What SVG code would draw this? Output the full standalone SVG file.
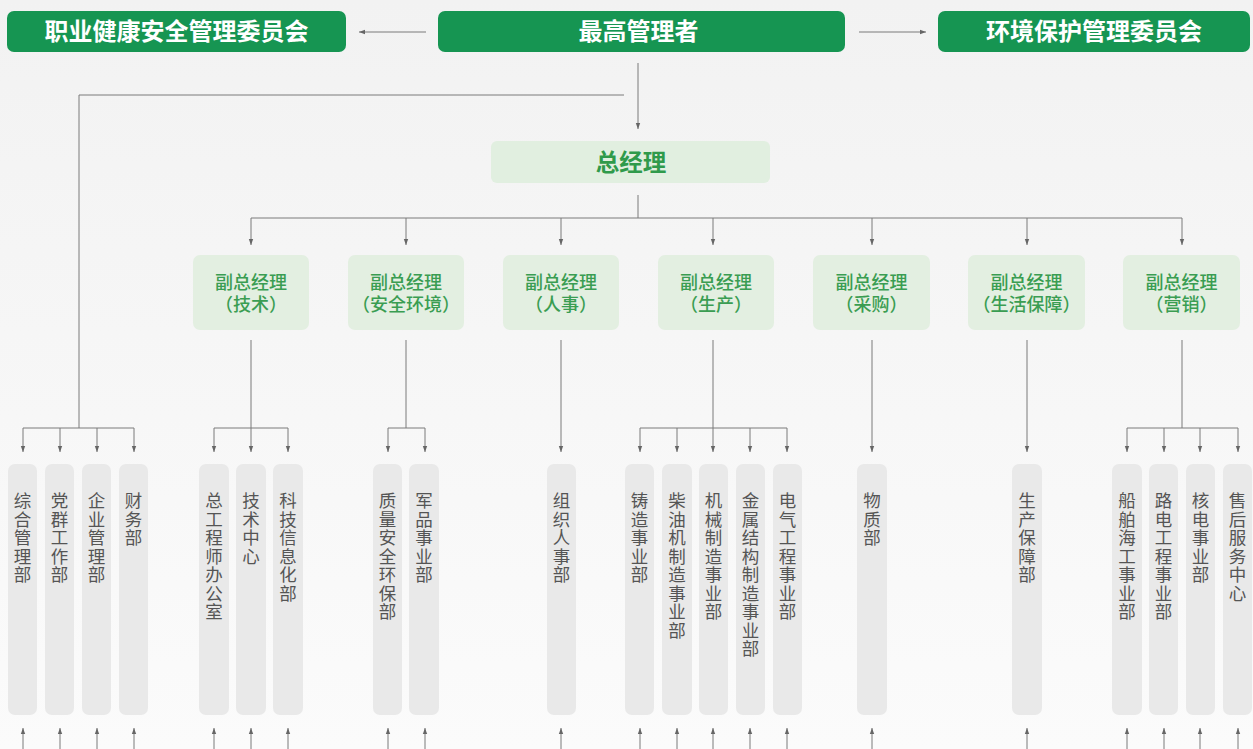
<svg xmlns="http://www.w3.org/2000/svg" width="1253" height="749" viewBox="0 0 1253 749">
<defs>
<linearGradient id="bg" x1="0" y1="0" x2="0" y2="1">
<stop offset="0" stop-color="#f2f2f2"/>
<stop offset="1" stop-color="#fbfbfb"/>
</linearGradient>
<marker id="ah" markerUnits="userSpaceOnUse" markerWidth="6" markerHeight="6" refX="6" refY="3" orient="auto">
<path d="M0,0.8 L6,3 L0,5.2 z" fill="#666"/>
</marker>
<style>
.top{fill:#169552}
.toptxt{fill:#ffffff;font-family:"Noto Sans CJK SC",sans-serif;font-weight:700;font-size:24px;text-anchor:middle}
.gm{fill:#e1efe0}
.gmtxt{fill:#2f9a4b;font-family:"Noto Sans CJK SC",sans-serif;font-weight:700;font-size:23.5px;text-anchor:middle}
.vp{fill:#e3efe1}
.vptxt{fill:#3a9d52;font-family:"Liberation Sans","Noto Sans CJK SC",sans-serif;font-weight:500;font-size:18px;text-anchor:middle}
.leaf{fill:#e9e9e9}
.leaftxt{fill:#555;font-family:"Noto Sans CJK SC",sans-serif;font-size:17.5px;writing-mode:vertical-rl;text-orientation:upright;letter-spacing:1px}
.c{fill:none;stroke:#7a7a7a;stroke-width:1}
.a{fill:none;stroke:#7a7a7a;stroke-width:1;marker-end:url(#ah)}
</style>
</defs>
<rect width="1253" height="749" fill="url(#bg)"/>

<g id="connectors">
<path class="a" d="M426,32 H359"/>
<path class="a" d="M859,32 H926"/>
<path class="a" d="M638,63 V129"/>
<path class="c" d="M624,95 H79 V428"/>
<path class="c" d="M638,195 V218"/>
<path class="c" d="M251,218 H1182"/>
<path class="a" d="M251,218 V245"/>
<path class="a" d="M406,218 V245"/>
<path class="a" d="M561,218 V245"/>
<path class="a" d="M713,218 V245"/>
<path class="a" d="M872,218 V245"/>
<path class="a" d="M1027,218 V245"/>
<path class="a" d="M1182,218 V245"/>
<path class="c" d="M23,428 H134"/>
<path class="a" d="M23,428 V452"/>
<path class="a" d="M60,428 V452"/>
<path class="a" d="M97,428 V452"/>
<path class="a" d="M134,428 V452"/>
<path class="c" d="M251,340 V428 M214,428 H288"/>
<path class="a" d="M214,428 V452"/>
<path class="a" d="M251,428 V452"/>
<path class="a" d="M288,428 V452"/>
<path class="c" d="M406,340 V428 M388,428 H425"/>
<path class="a" d="M388,428 V452"/>
<path class="a" d="M425,428 V452"/>
<path class="a" d="M561,340 V452"/>
<path class="c" d="M713,340 V428 M640,428 H787"/>
<path class="a" d="M640,428 V452"/>
<path class="a" d="M677,428 V452"/>
<path class="a" d="M713,428 V452"/>
<path class="a" d="M750,428 V452"/>
<path class="a" d="M787,428 V452"/>
<path class="a" d="M872,340 V452"/>
<path class="a" d="M1027,340 V452"/>
<path class="c" d="M1182,340 V428 M1127,428 H1238"/>
<path class="a" d="M1127,428 V452"/>
<path class="a" d="M1164,428 V452"/>
<path class="a" d="M1200,428 V452"/>
<path class="a" d="M1238,428 V452"/>
<path class="a" d="M23,749 V728"/>
<path class="a" d="M60,749 V728"/>
<path class="a" d="M97,749 V728"/>
<path class="a" d="M134,749 V728"/>
<path class="a" d="M214,749 V728"/>
<path class="a" d="M251,749 V728"/>
<path class="a" d="M288,749 V728"/>
<path class="a" d="M388,749 V728"/>
<path class="a" d="M425,749 V728"/>
<path class="a" d="M561,749 V728"/>
<path class="a" d="M640,749 V728"/>
<path class="a" d="M677,749 V728"/>
<path class="a" d="M713,749 V728"/>
<path class="a" d="M750,749 V728"/>
<path class="a" d="M787,749 V728"/>
<path class="a" d="M872,749 V728"/>
<path class="a" d="M1027,749 V728"/>
<path class="a" d="M1127,749 V728"/>
<path class="a" d="M1164,749 V728"/>
<path class="a" d="M1200,749 V728"/>
<path class="a" d="M1238,749 V728"/>
</g>

<g id="n-ohs"><rect class="top" x="7" y="11" width="339" height="41" rx="7"/><text class="toptxt" x="176.5" y="40">职业健康安全管理委员会</text></g>
<g id="n-top"><rect class="top" x="438" y="11" width="407" height="41" rx="7"/><text class="toptxt" x="638.5" y="40">最高管理者</text></g>
<g id="n-env"><rect class="top" x="938" y="11" width="312" height="41" rx="7"/><text class="toptxt" x="1094" y="40">环境保护管理委员会</text></g>

<g id="n-gm"><rect class="gm" x="491" y="141" width="279" height="42" rx="6"/><text class="gmtxt" x="631" y="171">总经理</text></g>

<g id="n-vp1"><rect class="vp" x="193" y="255" width="116" height="75" rx="7"/><text class="vptxt" x="251" y="288.5">副总经理</text><text class="vptxt" x="251" y="311">（技术）</text></g>
<g id="n-vp2"><rect class="vp" x="348" y="255" width="116" height="75" rx="7"/><text class="vptxt" x="406" y="288.5">副总经理</text><text class="vptxt" x="406" y="311">（安全环境）</text></g>
<g id="n-vp3"><rect class="vp" x="503" y="255" width="116" height="75" rx="7"/><text class="vptxt" x="561" y="288.5">副总经理</text><text class="vptxt" x="561" y="311">（人事）</text></g>
<g id="n-vp4"><rect class="vp" x="658" y="255" width="116" height="75" rx="7"/><text class="vptxt" x="716" y="288.5">副总经理</text><text class="vptxt" x="716" y="311">（生产）</text></g>
<g id="n-vp5"><rect class="vp" x="813" y="255" width="117" height="75" rx="7"/><text class="vptxt" x="871.5" y="288.5">副总经理</text><text class="vptxt" x="871.5" y="311">（采购）</text></g>
<g id="n-vp6"><rect class="vp" x="968" y="255" width="117" height="75" rx="7"/><text class="vptxt" x="1026.5" y="288.5">副总经理</text><text class="vptxt" x="1026.5" y="311">（生活保障）</text></g>
<g id="n-vp7"><rect class="vp" x="1123" y="255" width="117" height="75" rx="7"/><text class="vptxt" x="1181.5" y="288.5">副总经理</text><text class="vptxt" x="1181.5" y="311">（营销）</text></g>

<g id="n-l1"><rect class="leaf" x="8" y="464" width="29" height="251" rx="7"/><text class="leaftxt" x="22.5" y="492">综合管理部</text></g>
<g id="n-l2"><rect class="leaf" x="45" y="464" width="29" height="251" rx="7"/><text class="leaftxt" x="59.5" y="492">党群工作部</text></g>
<g id="n-l3"><rect class="leaf" x="82" y="464" width="29" height="251" rx="7"/><text class="leaftxt" x="96.5" y="492">企业管理部</text></g>
<g id="n-l4"><rect class="leaf" x="119" y="464" width="29" height="251" rx="7"/><text class="leaftxt" x="133.5" y="492">财务部</text></g>
<g id="n-l5"><rect class="leaf" x="199" y="464" width="30" height="251" rx="7"/><text class="leaftxt" x="214" y="492">总工程师办公室</text></g>
<g id="n-l6"><rect class="leaf" x="236" y="464" width="30" height="251" rx="7"/><text class="leaftxt" x="251" y="492">技术中心</text></g>
<g id="n-l7"><rect class="leaf" x="273" y="464" width="30" height="251" rx="7"/><text class="leaftxt" x="288" y="492">科技信息化部</text></g>
<g id="n-l8"><rect class="leaf" x="373" y="464" width="29" height="251" rx="7"/><text class="leaftxt" x="387.5" y="492">质量安全环保部</text></g>
<g id="n-l9"><rect class="leaf" x="409" y="464" width="30" height="251" rx="7"/><text class="leaftxt" x="424" y="492">军品事业部</text></g>
<g id="n-l10"><rect class="leaf" x="547" y="464" width="29" height="251" rx="7"/><text class="leaftxt" x="561.5" y="492">组织人事部</text></g>
<g id="n-l11"><rect class="leaf" x="625" y="464" width="29" height="251" rx="7"/><text class="leaftxt" x="639.5" y="492">铸造事业部</text></g>
<g id="n-l12"><rect class="leaf" x="662" y="464" width="30" height="251" rx="7"/><text class="leaftxt" x="677" y="492">柴油机制造事业部</text></g>
<g id="n-l13"><rect class="leaf" x="699" y="464" width="29" height="251" rx="7"/><text class="leaftxt" x="713.5" y="492">机械制造事业部</text></g>
<g id="n-l14"><rect class="leaf" x="736" y="464" width="29" height="251" rx="7"/><text class="leaftxt" x="750.5" y="492">金属结构制造事业部</text></g>
<g id="n-l15"><rect class="leaf" x="773" y="464" width="29" height="251" rx="7"/><text class="leaftxt" x="787.5" y="492">电气工程事业部</text></g>
<g id="n-l16"><rect class="leaf" x="857" y="464" width="30" height="251" rx="7"/><text class="leaftxt" x="872" y="492">物质部</text></g>
<g id="n-l17"><rect class="leaf" x="1012" y="464" width="30" height="251" rx="7"/><text class="leaftxt" x="1027" y="492">生产保障部</text></g>
<g id="n-l18"><rect class="leaf" x="1112" y="464" width="30" height="251" rx="7"/><text class="leaftxt" x="1127" y="492">船舶海工事业部</text></g>
<g id="n-l19"><rect class="leaf" x="1149" y="464" width="29" height="251" rx="7"/><text class="leaftxt" x="1163.5" y="492">路电工程事业部</text></g>
<g id="n-l20"><rect class="leaf" x="1186" y="464" width="29" height="251" rx="7"/><text class="leaftxt" x="1200.5" y="492">核电事业部</text></g>
<g id="n-l21"><rect class="leaf" x="1223" y="464" width="29" height="251" rx="7"/><text class="leaftxt" x="1237.5" y="492">售后服务中心</text></g>
</svg>
